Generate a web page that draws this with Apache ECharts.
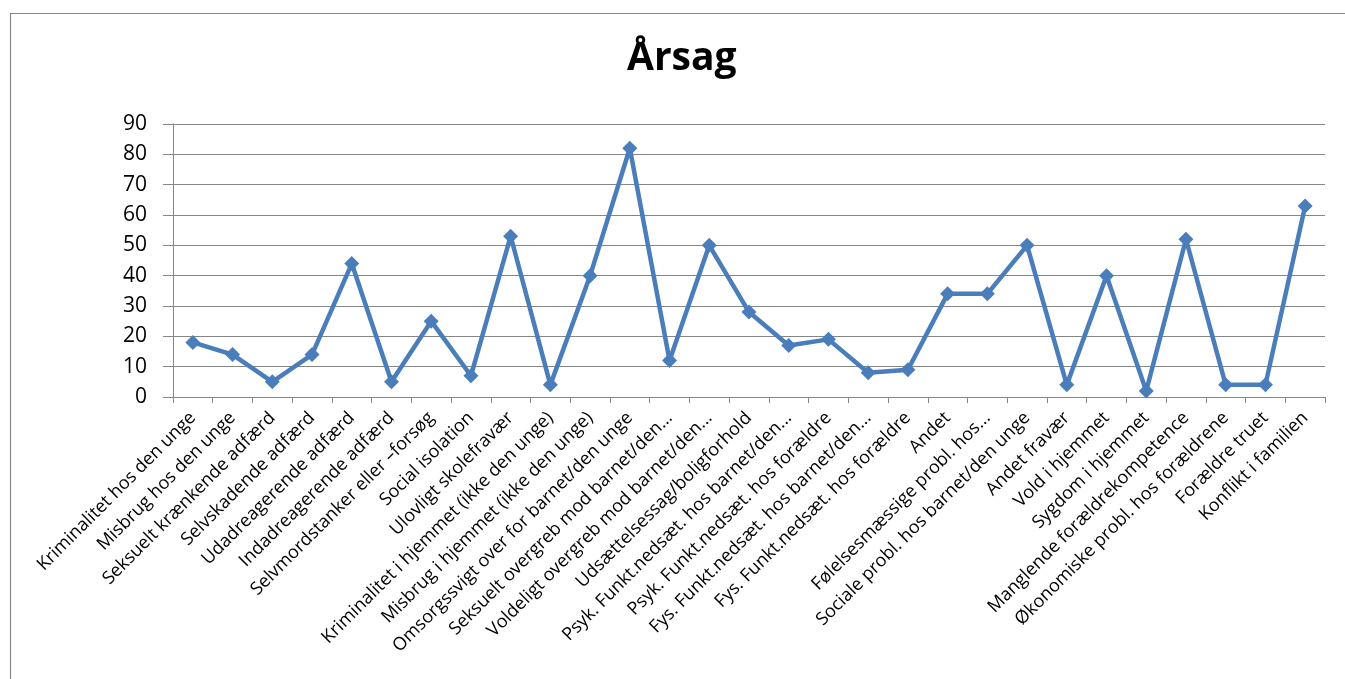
<!DOCTYPE html>
<html>
<head>
<meta charset="utf-8">
<script src="https://cdn.jsdelivr.net/npm/echarts@6/dist/echarts.min.js"></script>
<style>
html,body{margin:0;padding:0;background:#fff;}
#c{width:1345px;height:679px;}
</style>
</head>
<body>
<div id="c"></div>
<script>
const chartTitle = 'Årsag';
const categories = [
  'Kriminalitet hos den unge',
  'Misbrug hos den unge',
  'Seksuelt krænkende adfærd',
  'Selvskadende adfærd',
  'Udadreagerende adfærd',
  'Indadreagerende adfærd',
  'Selvmordstanker eller –forsøg',
  'Social isolation',
  'Ulovligt skolefravær',
  'Kriminalitet i hjemmet (ikke den unge)',
  'Misbrug i hjemmet (ikke den unge)',
  'Omsorgssvigt over for barnet/den unge',
  'Seksuelt overgreb mod barnet/den...',
  'Voldeligt overgreb mod barnet/den...',
  'Udsættelsessag/boligforhold',
  'Psyk. Funkt.nedsæt. hos barnet/den...',
  'Psyk. Funkt.nedsæt. hos forældre',
  'Fys. Funkt.nedsæt. hos barnet/den...',
  'Fys. Funkt.nedsæt. hos forældre',
  'Andet',
  'Følelsesmæssige probl. hos...',
  'Sociale probl. hos barnet/den unge',
  'Andet fravær',
  'Vold i hjemmet',
  'Sygdom i hjemmet',
  'Manglende forældrekompetence',
  'Økonomiske probl. hos forældrene',
  'Forældre truet',
  'Konflikt i familien'
];
const values = [18,14,5,14,44,5,25,7,53,4,40,82,12,50,28,17,19,8,9,34,34,50,4,40,2,52,4,4,63];
const yMin = 0, yMax = 90, yStep = 10;

const chart = echarts.init(document.getElementById('c'));
const font = '"Open Sans", "Liberation Sans", sans-serif';
chart.setOption({
  animation: false,
  backgroundColor: '#fff',
  graphic: [{
    type: 'rect', shape: {x: 10.5, y: 13.5, width: 1400, height: 700},
    style: {fill: 'none', stroke: '#888', lineWidth: 1.2}, silent: true
  }],
  title: {
    text: chartTitle, left: 622, top: 34,
    textStyle: {fontFamily: font, fontSize: 39, fontWeight: 'bold', color: '#000'}
  },
  grid: {left: 173, right: 20, top: 124, bottom: 282, containLabel: false},
  xAxis: {
    type: 'category', data: categories, boundaryGap: true,
    axisLine: {lineStyle: {color: '#868686', width: 1}},
    axisTick: {show: true, alignWithLabel: false, length: 6, lineStyle: {color: '#868686'}},
    axisLabel: {rotate: 45, interval: 0, margin: 18, color: '#000', fontFamily: font, fontSize: 18}
  },
  yAxis: {
    type: 'value', min: yMin, max: yMax, interval: yStep,
    axisLine: {show: true, lineStyle: {color: '#868686', width: 1}},
    axisTick: {show: true, length: 10, lineStyle: {color: '#868686'}},
    splitLine: {lineStyle: {color: '#868686', width: 1}},
    axisLabel: {margin: 26, color: '#000', fontFamily: font, fontSize: 21}
  },
  series: [{
    type: 'line', data: values,
    symbol: 'diamond', symbolSize: 15,
    lineStyle: {color: '#4a7ebb', width: 4.5},
    itemStyle: {color: '#4a7ebb'}
  }]
});
</script>
</body>
</html>
